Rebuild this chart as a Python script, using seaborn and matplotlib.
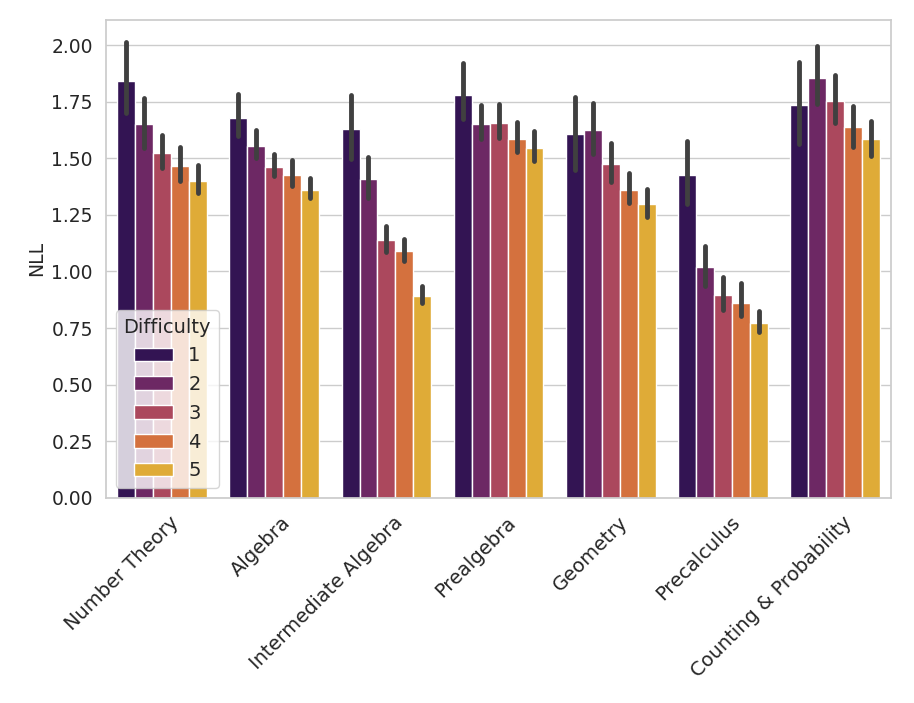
import matplotlib
matplotlib.use("Agg")
import matplotlib.pyplot as plt
import matplotlib.transforms as mtransforms
import pandas as pd
import seaborn as sns

subjects = ["Number Theory", "Algebra", "Intermediate Algebra", "Prealgebra",
            "Geometry", "Precalculus", "Counting & Probability"]
difficulties = ["1", "2", "3", "4", "5"]

# mean NLL per subject (rows) and difficulty (columns)
nll_mean = [
    [1.841, 1.650, 1.522, 1.466, 1.401],
    [1.679, 1.555, 1.461, 1.427, 1.361],
    [1.630, 1.407, 1.137, 1.089, 0.892],
    [1.781, 1.651, 1.657, 1.586, 1.545],
    [1.606, 1.625, 1.476, 1.361, 1.300],
    [1.427, 1.018, 0.896, 0.862, 0.771],
    [1.734, 1.853, 1.754, 1.637, 1.585],
]
# lower / upper ends of the confidence intervals
nll_low = [
    [1.698, 1.547, 1.456, 1.400, 1.345],
    [1.598, 1.501, 1.421, 1.376, 1.323],
    [1.498, 1.323, 1.085, 1.045, 0.860],
    [1.673, 1.586, 1.591, 1.529, 1.488],
    [1.448, 1.519, 1.397, 1.301, 1.239],
    [1.298, 0.936, 0.830, 0.804, 0.732],
    [1.562, 1.740, 1.654, 1.551, 1.511],
]
nll_high = [
    [2.012, 1.765, 1.603, 1.548, 1.469],
    [1.782, 1.623, 1.520, 1.491, 1.414],
    [1.781, 1.504, 1.201, 1.145, 0.937],
    [1.921, 1.735, 1.740, 1.660, 1.619],
    [1.769, 1.745, 1.569, 1.434, 1.364],
    [1.575, 1.113, 0.974, 0.948, 0.826],
    [1.926, 1.996, 1.870, 1.732, 1.666],
]

# long-form table: median gives the bar, min-max gives the error bar
rows = []
for i, subject in enumerate(subjects):
    for j, diff in enumerate(difficulties):
        for v in (nll_low[i][j], nll_mean[i][j], nll_high[i][j]):
            rows.append({"Subject": subject, "Difficulty": diff, "NLL": v})
df = pd.DataFrame(rows)

sns.set_theme(style="whitegrid")
plt.rcParams["font.family"] = ["DejaVu Sans"]

fig, ax = plt.subplots(figsize=(9.14, 7.03), dpi=100)
sns.barplot(data=df, x="Subject", y="NLL", hue="Difficulty", palette="inferno",
            estimator="median", errorbar=("pi", 100),
            err_kws={"linewidth": 3.5, "color": "#404040"}, ax=ax)

ax.set_xlabel("")
ax.set_ylabel("NLL", fontsize=13.5)
ax.tick_params(axis="y", labelsize=13.5)
ax.tick_params(axis="x", labelsize=14)
plt.setp(ax.get_xticklabels(), rotation=45, ha="right", rotation_mode="anchor")
# nudge rotated labels a little to the right
shift = mtransforms.ScaledTranslation(7 / 100, -2 / 100, fig.dpi_scale_trans)
for lbl in ax.get_xticklabels():
    lbl.set_transform(lbl.get_transform() + shift)
leg = ax.legend(title="Difficulty", loc="lower left", fontsize=14, title_fontsize=14)

fig.subplots_adjust(left=0.116, right=0.975, top=0.972, bottom=0.292)
fig.savefig("out.png", dpi=100)
plt.close(fig)
